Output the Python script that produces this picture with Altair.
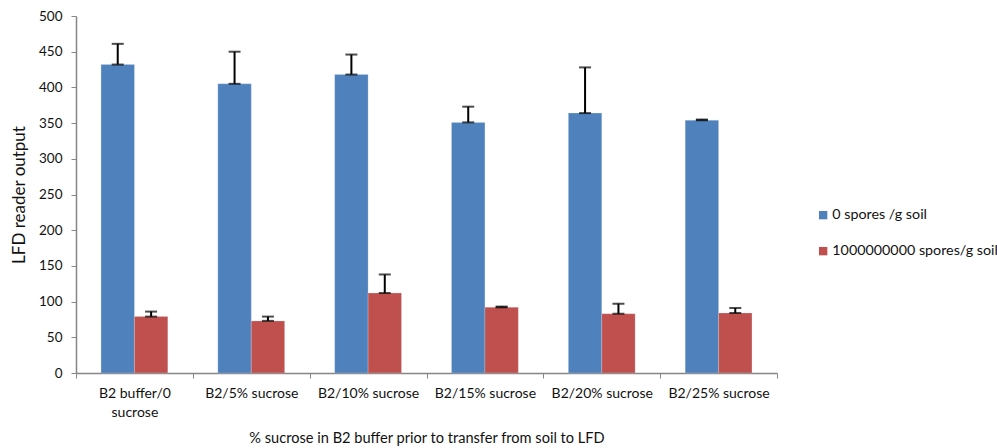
import altair as alt
import pandas as pd

categories = ["B2 buffer/0 sucrose", "B2/5% sucrose", "B2/10% sucrose",
              "B2/15% sucrose", "B2/20% sucrose", "B2/25% sucrose"]
series = ["0 spores /g soil", "1000000000 spores/g soil"]
values_0 = [432, 405, 418, 351, 364, 354]
errors_0 = [29, 45, 28, 22, 64, 1]
values_1 = [79, 73, 112, 92, 83, 84]
errors_1 = [7, 6, 26, 1, 14, 7]

rows = []
for s, vals, errs in [(series[0], values_0, errors_0), (series[1], values_1, errors_1)]:
    for c, v, e in zip(categories, vals, errs):
        rows.append({"cat": c, "series": s, "value": v, "upper": v + e})
df = pd.DataFrame(rows)

font = "Lato"
xenc = alt.X("cat:N", sort=categories,
             scale=alt.Scale(paddingInner=0, paddingOuter=0),
             axis=alt.Axis(title="% sucrose in B2 buffer prior to transfer from soil to LFD",
                           labelAngle=0, tickBand="extent", tickSize=5,
                           labelPadding=8, labelLineHeight=19, labelFontSize=14,
                           labelExpr="datum.label == 'B2 buffer/0 sucrose' ? ['B2 buffer/0', 'sucrose'] : datum.label",
                           titleY=65, titleBaseline="middle", titleFontSize=14.6,
                           titleFontWeight="normal"))
xoff = alt.XOffset("series:N", sort=series,
                   scale=alt.Scale(paddingOuter=0.75, paddingInner=0))
yaxis = alt.Axis(title="LFD reader output", values=list(range(0, 501, 50)),
                 labelOverlap=False, tickCount=11,
                 grid=False, tickSize=5, labelPadding=9, labelFontSize=13.5,
                 titleFontSize=17, titleFontWeight="normal",
                 titleX=-57, titleBaseline="middle")
yscale = alt.Scale(domain=[0, 500], nice=False)

bars = alt.Chart(df).mark_bar(stroke="#dbe4f0", strokeWidth=0.5, strokeOpacity=0.5).encode(
    x=xenc,
    xOffset=xoff,
    y=alt.Y("value:Q", scale=yscale, axis=yaxis),
    color=alt.Color("series:N", sort=series,
                    scale=alt.Scale(domain=series, range=["#4F81BD", "#C0504D"]),
                    legend=alt.Legend(title=None, orient="none", legendX=740, legendY=192,
                                      symbolType="square", symbolSize=70,
                                      symbolStrokeWidth=0, labelFontSize=14.3,
                                      labelLimit=400,
                                      rowPadding=21, symbolOffset=0, labelOffset=2)),
)

rules = alt.Chart(df).mark_rule(color="black", strokeWidth=2).encode(
    x=xenc,
    xOffset=xoff,
    y=alt.Y("value:Q", scale=yscale, axis=yaxis),
    y2="upper:Q",
)
caps_top = alt.Chart(df).mark_tick(color="black", thickness=2, size=12).encode(
    x=xenc,
    xOffset=xoff,
    y=alt.Y("upper:Q", scale=yscale, axis=yaxis),
)
caps_bot = alt.Chart(df).mark_tick(color="black", thickness=2, size=12).encode(
    x=xenc,
    xOffset=xoff,
    y=alt.Y("value:Q", scale=yscale, axis=yaxis),
)

chart = alt.layer(bars, rules, caps_top, caps_bot).properties(
    width=701, height=357,
    autosize=alt.AutoSizeParams(type="none"),
    padding={"left": 76, "top": 16, "right": 220, "bottom": 75},
).configure_view(stroke=None).configure_axis(
    labelFont=font, titleFont=font, labelColor="#111", titleColor="#111",
    domainColor="#868686", tickColor="#868686", domainWidth=1.5
).configure_legend(labelFont=font, labelColor="#111")

chart.save("out.html", embed_options={"renderer": "svg", "actions": False})
